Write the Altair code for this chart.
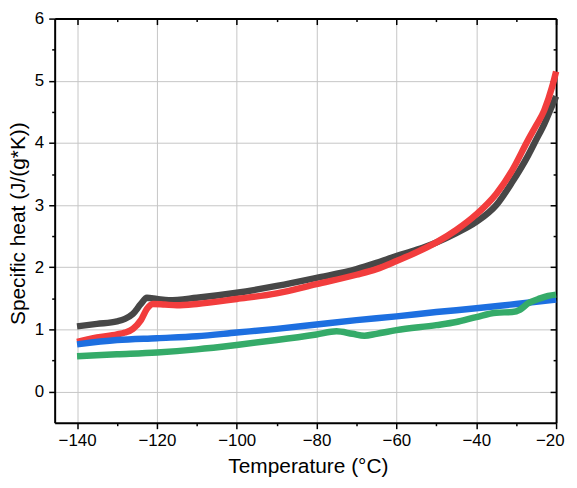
import altair as alt
import pandas as pd

names = ["DMSO 20%", "DMSO 30%", "Parrafin Wax", "Tofu"]
colors = ["#474747", "#f23d3d", "#1d6fe0", "#35ab69"]

dmso20_t = [-140, -135, -130, -128, -126, -124, -122.5, -120, -117, -110, -100, -90, -80, -70, -65, -60, -55, -50, -45, -40, -35, -31, -27, -25, -23, -21, -20]
dmso20_v = [1.05, 1.09, 1.13, 1.17, 1.25, 1.41, 1.51, 1.49, 1.47, 1.51, 1.59, 1.70, 1.83, 1.97, 2.07, 2.18, 2.28, 2.40, 2.55, 2.73, 3.00, 3.37, 3.80, 4.05, 4.30, 4.60, 4.75]

dmso30_t = [-140, -135, -130, -128, -126, -124, -122.5, -121, -118, -115, -110, -100, -90, -80, -70, -65, -60, -55, -50, -45, -40, -35, -31, -27, -25, -23, -21, -20]
dmso30_v = [0.80, 0.87, 0.92, 0.95, 1.01, 1.15, 1.33, 1.41, 1.40, 1.39, 1.41, 1.49, 1.58, 1.73, 1.88, 1.97, 2.10, 2.24, 2.40, 2.60, 2.85, 3.18, 3.56, 4.05, 4.28, 4.52, 4.90, 5.15]

wax_t = [-140, -130, -120, -110, -100, -90, -80, -70, -60, -50, -40, -30, -20]
wax_v = [0.76, 0.83, 0.86, 0.89, 0.95, 1.01, 1.08, 1.15, 1.21, 1.28, 1.34, 1.41, 1.48]

tofu_t = [-140, -130, -120, -110, -100, -90, -80, -75, -71, -68, -65, -60, -50, -45, -40, -35, -31, -29, -27, -24, -22, -20]
tofu_v = [0.57, 0.60, 0.63, 0.68, 0.75, 0.83, 0.92, 0.97, 0.93, 0.90, 0.93, 0.99, 1.07, 1.12, 1.20, 1.27, 1.28, 1.32, 1.42, 1.50, 1.54, 1.56]

x_major_ticks = list(range(-140, -19, 20))
x_minor_ticks = list(range(-130, -19, 20))
y_major_ticks = list(range(0, 7))
y_minor_ticks = [i + 0.5 for i in range(0, 6)]

legend_paths = [
    "M-1,-0.07H4.75V0.07H-1Z M1.55,-0.33H2.2V0.33H1.55Z",
    "M-1,-0.07H4.75V0.07H-1Z M1.5,0A0.375,0.375 0 1,0 2.25,0A0.375,0.375 0 1,0 1.5,0Z",
    "M-1,-0.07H4.75V0.07H-1Z M1.875,-0.42L2.26,0.28L1.49,0.28Z",
    "M-1,-0.07H4.75V0.07H-1Z M1.875,0.42L2.26,-0.28L1.49,-0.28Z",
]

rows = []
for name, ts, vs in [(names[0], dmso20_t, dmso20_v), (names[1], dmso30_t, dmso30_v),
                     (names[2], wax_t, wax_v), (names[3], tofu_t, tofu_v)]:
    for t, v in zip(ts, vs):
        rows.append({"series": name, "T": t, "cp": v})
df = pd.DataFrame(rows)

FONT = "Liberation Sans"
xscale = alt.Scale(domain=[-145.6, -20], nice=False, zero=False)
yscale = alt.Scale(domain=[-0.5, 6], nice=False, zero=False)
cscale = alt.Scale(domain=names, range=colors)

x_axis = alt.Axis(
    orient="bottom", values=x_major_ticks,
    tickSize=6, tickWidth=1.5, tickColor="black",
    grid=True, gridColor="#c6c6c6", gridWidth=1,
    domainColor="black", domainWidth=2, labelFlush=True, labelFlushOffset=8,
    labelFont=FONT, labelFontSize=17, labelColor="black", labelPadding=4,
    title="Temperature (°C)", titleFont=FONT, titleFontSize=21, titleFontWeight="normal",
    titleColor="black", titleX=255, titleY=50, titleBaseline="alphabetic",
)
y_axis = alt.Axis(
    orient="left", values=y_major_ticks, format="d",
    tickSize=6, tickWidth=1.5, tickColor="black",
    grid=True, gridColor="#c6c6c6", gridWidth=1,
    domainColor="black", domainWidth=2, labelFlush=False,
    labelFont=FONT, labelFontSize=17, labelColor="black", labelPadding=5,
    title="Specific heat (J/(g*K))", titleFont=FONT, titleFontSize=21, titleFontWeight="normal",
    titleColor="black", titleX=-36, titleY=206, titleBaseline="middle", titleAlign="center",
)

lines = alt.Chart(df).mark_line(strokeWidth=6.5, interpolate="monotone").encode(
    x=alt.X("T:Q", scale=xscale, axis=x_axis),
    y=alt.Y("cp:Q", scale=yscale, axis=y_axis),
    stroke=alt.Stroke("series:N", scale=cscale, legend=None),
)


def tick_layer(xv, yv, size, xo, yo, off, dom=False):
    ax = alt.Axis(orient=xo, values=xv, labels=False, domain=dom, domainColor="black", domainWidth=2,
                  grid=False, title="", ticks=not dom,
                  tickSize=size, offset=off, tickWidth=1.5, tickColor="black")
    ay = alt.Axis(orient=yo, values=yv, labels=False, domain=dom, domainColor="black", domainWidth=2,
                  grid=False, title="", ticks=not dom,
                  tickSize=size, offset=off, tickWidth=1.5, tickColor="black")
    return alt.Chart(df).mark_line(opacity=0.3, strokeWidth=0.01).encode(
        x=alt.X("T:Q", scale=xscale, axis=ax),
        y=alt.Y("cp:Q", scale=yscale, axis=ay),
    )


minor_out = tick_layer(x_minor_ticks, y_minor_ticks, 3, "bottom", "left", 0)
frame_dom = tick_layer(x_major_ticks, y_major_ticks, 1, "top", "right", 0, dom=True)
major_in = tick_layer(x_major_ticks, y_major_ticks, 6, "top", "right", -6)
minor_in = tick_layer(x_minor_ticks, y_minor_ticks, 3, "top", "right", -3)

leg = alt.Legend(
    orient="none", legendX=45, legendY=13, title=None,
    symbolSize=256, symbolStrokeWidth=0, symbolOpacity=1,
    labelFont=FONT, labelFontSize=20, labelColor="black", labelOffset=38, labelLimit=400,
    padding=4, rowPadding=6, fillColor="white", strokeColor="#6e6e6e",
)
legend_layer = alt.Chart(df).mark_point(filled=True, opacity=0.3, size=0.01).encode(
    x=alt.X("T:Q", scale=xscale, axis=None),
    y=alt.Y("cp:Q", scale=yscale, axis=None),
    color=alt.Color("series:N", scale=cscale, legend=leg),
    shape=alt.Shape("series:N", scale=alt.Scale(domain=names, range=legend_paths), legend=leg),
)

chart = alt.layer(lines, minor_out, frame_dom, major_in, minor_in, legend_layer).resolve_axis(
    x="independent", y="independent"
).properties(
    width=505, height=407,
    padding=0,
)

chart.save("out.html", embed_options={"renderer": "svg", "actions": False})
